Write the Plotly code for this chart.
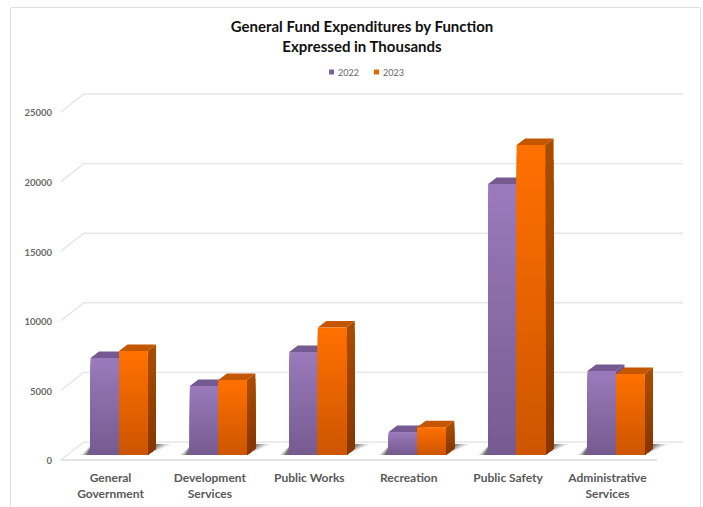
import plotly.graph_objects as go

categories = ["General<br>Government", "Development<br>Services", "Public Works", "Recreation", "Public Safety", "Administrative<br>Services"]
values_2022 = [6970, 4960, 7400, 1650, 19470, 6030]
values_2023 = [7470, 5390, 9160, 2000, 22270, 5820]
y_ticks = [0, 5000, 10000, 15000, 20000, 25000]
title_text = "<b>General Fund Expenditures by Function<br>Expressed in Thousands</b>"

W, H = 703, 507
PX_PER_UNIT = 69.6 / 5000
PX_PER_CAT = 99.4
BAR_W = 28.5
DX, DY = 8.5, 6.5
N_BANDS = 30


def lerp(c0, c1, t):
    return "rgb(%d,%d,%d)" % tuple(round(a + (b - a) * t) for a, b in zip(c0, c1))


def xr(center_px):
    return [-center_px / PX_PER_CAT, (W - center_px) / PX_PER_CAT]


def yr(zero_px):
    return [(zero_px - H) / PX_PER_UNIT, zero_px / PX_PER_UNIT]


xu = 1 / PX_PER_CAT
yu = 1 / PX_PER_UNIT
cats = list(range(len(categories)))

series = [
    dict(name="2022", vals=values_2022, side=-1, front=((154, 122, 187), (117, 90, 143)),
         sidec=((112, 84, 140), (96, 72, 120)), top=(117, 90, 145), swatch="#7F5FA0", sw_x=331.5, tx=336),
    dict(name="2023", vals=values_2023, side=1, front=((255, 112, 0), (204, 85, 0)),
         sidec=((170, 76, 0), (132, 54, 0)), top=(196, 86, 0), swatch="#E86400", sw_x=376.5, tx=381.5),
]

fig = go.Figure()

# back wall, depth connectors and floor, in the front-plane axis
gx, gy = [], []
for v in y_ticks:
    gx += [-0.5, -0.5 + 23 * xu, 5.53 + 23 * xu, None]
    gy += [v + yu, v + 19 * yu, v + 19 * yu, None]
fig.add_trace(go.Scatter(x=gx, y=gy, mode="lines", line=dict(color="#E6E6E6", width=1.4),
                         showlegend=False, hoverinfo="skip", xaxis="x", yaxis="y"))
fig.add_trace(go.Scatter(x=[-0.5, 5.5], y=[yu, yu], mode="lines", line=dict(color="#E2E4E8", width=2),
                         showlegend=False, hoverinfo="skip", xaxis="x", yaxis="y"))

# floor shadows
for alpha, grow in [(0.10, 1.0), (0.14, 0.85), (0.2, 0.7), (0.28, 0.55), (0.35, 0.4)]:
    sx, sy = [], []
    for i in cats:
        left = i - BAR_W * xu
        right = i + BAR_W * xu
        sx += [left - 10 * grow * xu, right, right + 24 * grow * xu, left + 2 * xu, left - 10 * grow * xu, None]
        sy += [0, 0, 11 * yu, 11 * yu, 0, None]
    fig.add_trace(go.Scatter(x=sx, y=sy, mode="lines", fill="toself", line=dict(width=0),
                             fillcolor="rgba(50,50,50,%g)" % alpha,
                             showlegend=False, hoverinfo="skip", xaxis="x2", yaxis="y2"))

# side and top faces
for s in series:
    n_side = N_BANDS // 2
    for b in range(n_side, 0, -1):
        f1 = b / n_side
        px, py = [], []
        for i, v in zip(cats, s["vals"]):
            edge = i + (0 if s["side"] < 0 else BAR_W * xu)
            px += [edge, edge + DX * xu, edge + DX * xu, edge, edge, None]
            py += [0, DY * yu, v * f1 + DY * yu, v * f1, 0, None]
        fig.add_trace(go.Scatter(x=px, y=py, mode="lines", fill="toself", line=dict(width=0),
                                 fillcolor=lerp(s["sidec"][1], s["sidec"][0], f1),
                                 showlegend=False, hoverinfo="skip", xaxis="x2", yaxis="y2"))
    tx, ty = [], []
    for i, v in zip(cats, s["vals"]):
        x0 = i - BAR_W * xu if s["side"] < 0 else i
        x1 = x0 + BAR_W * xu
        tx += [x0, x1, x1 + DX * xu, x0 + DX * xu, x0, None]
        ty += [v, v, v + DY * yu, v + DY * yu, v, None]
    fig.add_trace(go.Scatter(x=tx, y=ty, mode="lines", fill="toself", line=dict(width=0),
                             fillcolor=lerp(s["top"], s["top"], 0),
                             showlegend=False, hoverinfo="skip", xaxis="x2", yaxis="y2"))

# front faces: overlapping bars from full height downwards give the gradient
for s in series:
    for b in range(N_BANDS, 0, -1):
        f1 = b / N_BANDS
        fig.add_trace(go.Bar(
            x=cats,
            y=[v * f1 for v in s["vals"]],
            width=BAR_W * xu,
            offset=-BAR_W * xu if s["side"] < 0 else 0,
            marker=dict(color=lerp(s["front"][1], s["front"][0], f1), line=dict(width=0)),
            name=s["name"],
            showlegend=False,
            hoverinfo="skip",
            xaxis="x3", yaxis="y3",
        ))

legend_shapes = [dict(type="rect", xref="paper", yref="paper",
                      x0=(s["sw_x"] - 2.5) / W, x1=(s["sw_x"] + 2.5) / W,
                      y0=1 - 74.5 / H, y1=1 - 69.5 / H,
                      fillcolor=s["swatch"], line=dict(width=0)) for s in series]
legend_notes = [dict(text=s["name"], xref="paper", yref="paper", x=s["tx"] / W, y=1 - 72 / H,
                     xanchor="left", yanchor="middle", showarrow=False,
                     font=dict(family="Lato", size=9, color="#666666")) for s in series]

axis_off = dict(visible=False, fixedrange=True)
fig.update_layout(
    width=W, height=H,
    margin=dict(l=0, r=0, t=0, b=0),
    autosize=False,
    paper_bgcolor="white",
    plot_bgcolor="white",
    barmode="overlay",
    showlegend=False,
    font=dict(family="Lato", color="#666666"),
    title=dict(text=title_text, x=362 / W, xanchor="center", y=1 - 32 / H, yanchor="top",
               font=dict(family="Lato", size=15, color="#111111")),
    xaxis=dict(range=xr(110.5), domain=[0, 1], anchor="free", position=1 - 460 / H,
               tickmode="array", tickvals=cats, ticktext=categories, showgrid=False, zeroline=False,
               showline=False, ticks="outside", ticklen=7, tickcolor="rgba(0,0,0,0)",
               tickfont=dict(family="Lato", size=12, color="#595959", weight="bold"), tickangle=0),
    yaxis=dict(range=yr(461), domain=[0, 1], anchor="free", position=52 / W,
               tickmode="array", tickvals=y_ticks, ticktext=[str(v) for v in y_ticks],
               showgrid=False, zeroline=False, showline=False, ticks="",
               tickfont=dict(family="Lato", size=9.5, color="#6a6a6a", weight="bold")),
    xaxis2=dict(range=xr(119), overlaying="x", **axis_off),
    yaxis2=dict(range=yr(455), overlaying="y", **axis_off),
    xaxis3=dict(range=xr(119), overlaying="x", **axis_off),
    yaxis3=dict(range=yr(455), overlaying="y", **axis_off),
    annotations=legend_notes,
    shapes=[dict(type="rect", xref="paper", yref="paper", x0=10.5 / W, x1=700.5 / W,
                 y0=-0.05, y1=1 - 7.5 / H, line=dict(color="#E0E0E0", width=1), layer="below")] + legend_shapes,
)
fig.write_html("out.html", config={"displayModeBar": False},
               post_script="document.body.style.margin='0';document.documentElement.style.overflow='hidden';window.dispatchEvent(new Event('resize'));")
